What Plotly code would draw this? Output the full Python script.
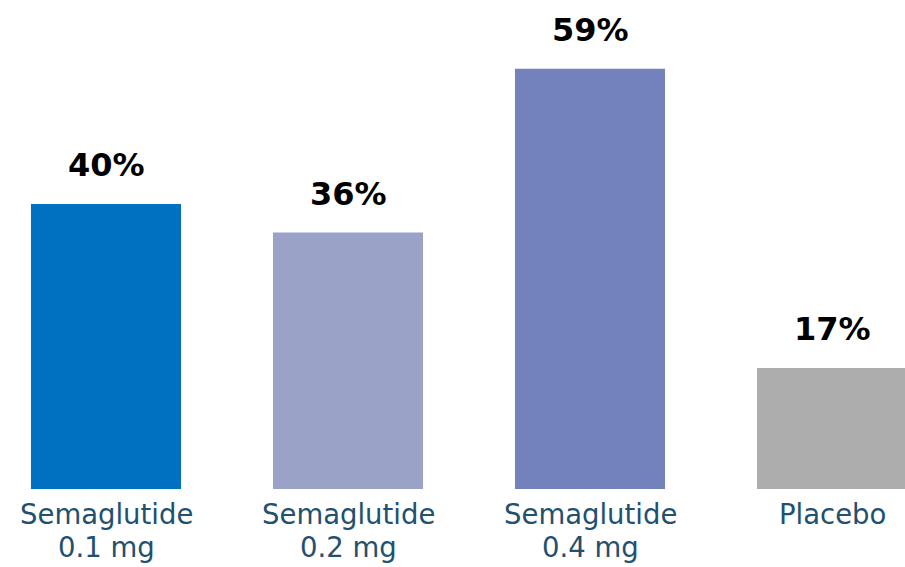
import plotly.graph_objects as go

categories = ["Semaglutide 0.1 mg", "Semaglutide 0.2 mg", "Semaglutide 0.4 mg", "Placebo"]
label_line1 = ["Semaglutide", "Semaglutide", "Semaglutide", "Placebo"]
label_line2 = ["0.1 mg", "0.2 mg", "0.4 mg", ""]
values = [40, 36, 59, 17]
value_labels = ["40%", "36%", "59%", "17%"]
colors = ["#0070C0", "#9BA2C7", "#7382BD", "#ADADAD"]

xpos = list(range(len(categories)))

fig = go.Figure()
fig.add_trace(go.Bar(
    x=xpos, y=values, width=0.62,
    marker=dict(color=colors, line=dict(width=0)),
    hoverinfo="skip", showlegend=False,
))

label_color = "#22506F"
for i, v in enumerate(values):
    fig.add_annotation(x=xpos[i], y=v, xref="x", yref="y", text=value_labels[i],
                       showarrow=False, yanchor="bottom", xanchor="center", yshift=18,
                       font=dict(family="DejaVu Sans", size=32, color="#000000", weight="bold"))
    fig.add_annotation(x=xpos[i], y=0, xref="x", yref="y", text=label_line1[i],
                       showarrow=False, yanchor="top", xanchor="center", yshift=-7,
                       font=dict(family="DejaVu Sans", size=27.5, color=label_color))
    if label_line2[i]:
        fig.add_annotation(x=xpos[i], y=0, xref="x", yref="y", text=label_line2[i],
                           showarrow=False, yanchor="top", xanchor="center", yshift=-40,
                           font=dict(family="DejaVu Sans", size=27.5, color=label_color))

fig.update_layout(
    width=905, height=567,
    margin=dict(l=0, r=0, t=0, b=78),
    paper_bgcolor="white", plot_bgcolor="white",
    xaxis=dict(visible=False, range=[-106/242, 799/242]),
    yaxis=dict(visible=False, range=[0, 489/7.125]),
)

fig.write_html("out.html")
